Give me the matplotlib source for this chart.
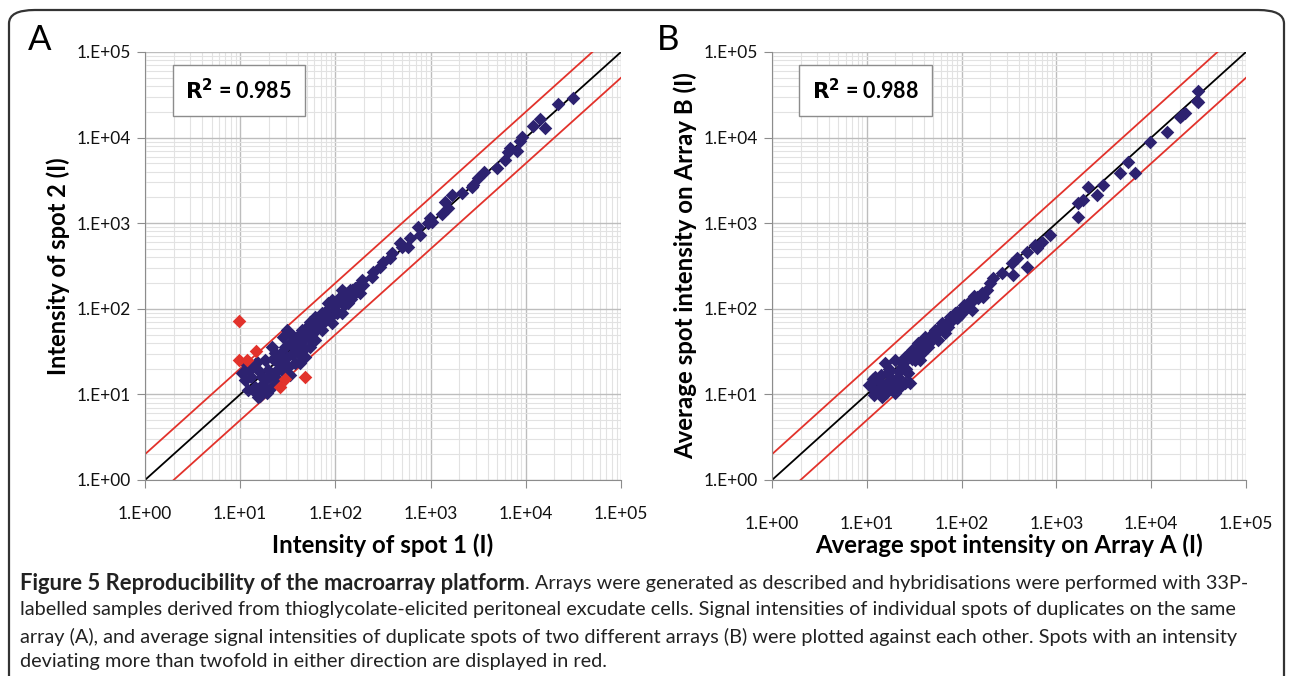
import numpy as np
import matplotlib.pyplot as plt
from matplotlib.patches import FancyBboxPatch
from matplotlib.ticker import LogLocator, FuncFormatter, NullFormatter

plt.rcParams['font.family'] = ['Lato', 'DejaVu Sans']

# panel A: spot 1 vs spot 2 (blue = within twofold)
a_x = [31300, 21800, 14100, 11900, 15900, 9120, 8690, 8090, 6820, 6500, 6050, 4980,
       3640, 3150, 2790, 2720, 2140, 1680, 1420, 1520, 1320, 986, 1035, 940, 738, 774,
       608, 579, 477, 501, 393, 375, 316, 294, 248, 242, 190, 195, 142, 161, 112, 104,
       10.4, 11.2, 12.2, 14.3, 15.5, 16.8, 13.2, 14.9, 18.2, 19.7, 21.4, 23.2, 25.1,
       27.3, 29.6, 32.0, 33.4, 37.6, 40.8, 44.3, 48.0, 52.0, 54.1, 56.4, 61.1, 66.1,
       71.8, 77.8, 84.3, 91.4, 99.0, 107, 116, 126, 137, 148, 167, 181, 28.4, 23.2,
       18.2, 29.6, 25.1, 19.7, 16.1, 30.8, 21.4, 44.3, 61.1, 37.6, 48.0, 71.8, 91.4,
       116, 15.5, 11.2, 27.3, 42.5,
       12, 13, 14, 17, 20, 22, 24, 26, 28, 31, 33, 35, 38, 41, 43, 46, 50, 53, 58, 63,
       68, 75, 80, 88, 95, 103, 112, 122, 133, 145, 160, 19, 16, 36, 54]
a_y = [29000, 24700, 16500, 13700, 12900, 10200, 9120, 6970, 7560, 6790, 5470, 4420,
       3960, 3370, 2790, 2650, 2250, 2130, 1770, 1510, 1280, 1150, 1030, 1005, 903, 728,
       671, 527, 587, 527, 449, 392, 352, 308, 269, 235, 217, 190, 166, 153, 137, 117,
       17.6, 14.7, 11.2, 12.3, 9.4, 16.1, 21.1, 24.1, 14.7, 19.3, 12.3, 16.1, 23.1,
       27.6, 36.1, 21.1, 16.9, 43.2, 30.2, 36.1, 47.2, 56.5, 36.1, 67.7, 43.2, 74.0,
       56.5, 88.6, 116, 67.7, 96.8, 127, 88.6, 152, 116, 166, 181, 152, 47.2, 30.2,
       25.2, 17.6, 14.7, 11.2, 11.2, 56.5, 36.1, 56.5, 80.9, 23.1, 27.6, 88.6, 127,
       166, 19.3, 23.1, 19.3, 23.1,
       20, 16, 11, 13, 16, 26, 19, 30, 22, 27, 40, 30, 34, 50, 40, 33, 62, 45, 52, 60,
       64, 70, 95, 80, 110, 90, 130, 110, 145, 130, 175, 10.5, 9.5, 48, 70]
# panel A: outliers (more than twofold)
a_red_x = [9.7, 14.7, 9.7, 11.8, 29.6, 26.2, 48]
a_red_y = [72, 32, 25, 25, 15.1, 12.2, 16]

# panel B: array A vs array B
b_x = [31400, 30200, 31400, 21000, 22700, 20100, 14600, 9710, 5730, 4690, 6750, 3130,
       2660, 2170, 1920, 1700, 1700, 856, 700, 595, 620, 486, 486, 381, 337, 351, 265,
       216, 199, 184, 163, 144, 123, 118, 96.2, 88.8, 75.5, 66.8,
       11.3, 12.2, 14.4, 13.2, 16.9, 18.3, 15.6, 19.8, 21.5, 23.3, 25.3, 27.4, 29.8,
       32.2, 34.9, 37.9, 41.1, 44.6, 52.4, 56.8, 61.7, 66.8, 78.7, 85.1, 92.3, 109,
       118, 128, 150, 169, 19.8, 21.5, 28.6, 17.6, 12.2, 48.3, 72.4, 100, 36.4, 25.3,
       11.5, 13, 14, 15, 17, 18, 20, 22, 24, 26, 28, 30, 33, 36, 39, 42, 46, 50, 54,
       59, 64, 70, 76, 82, 90, 98, 105, 115, 125, 135, 10.5, 12, 16, 23]
b_y = [35300, 27000, 26300, 18400, 19200, 17300, 11700, 8960, 5230, 3830, 3830, 2790,
       2140, 2670, 1870, 1710, 1190, 728, 608, 556, 509, 465, 310, 389, 340, 248, 260,
       227, 199, 166, 152, 138, 116, 106, 88.6, 77.4, 70.8, 64.7,
       12.3, 10.3, 9.4, 14.7, 17.6, 12.3, 23.1, 25.2, 16.1, 21.1, 27.6, 17.6, 33.0,
       25.2, 39.5, 30.2, 47.2, 36.1, 56.5, 43.2, 67.7, 51.7, 74.0, 88.6, 80.9, 106,
       116, 96.8, 133, 138, 10.3, 12.3, 13.5, 14.7, 16.1, 43.2, 61.8, 96.8, 25.2, 13.5,
       15, 11, 17, 13, 20, 15, 14, 19, 23, 20, 30, 26, 29, 34, 42, 38, 48, 45, 52,
       60, 58, 68, 80, 78, 92, 88, 112, 105, 120, 140, 13, 9.8, 10.5, 12.5]

r2_a = 0.985
r2_b = 0.988

blue = '#2d2270'
red = '#e2322b'
line_x = np.array([1, 1e5])


def setup(ax, xlabel, ylabel, r2, xpad, lsize):
    ax.set_xscale('log')
    ax.set_yscale('log')
    ax.set_xlim(1, 1e5)
    ax.set_ylim(1, 1e5)
    ax.xaxis.set_minor_locator(LogLocator(base=10, subs=np.arange(2, 10)))
    ax.yaxis.set_minor_locator(LogLocator(base=10, subs=np.arange(2, 10)))
    ax.xaxis.set_minor_formatter(NullFormatter())
    ax.yaxis.set_minor_formatter(NullFormatter())
    fmt = FuncFormatter(lambda v, p: '1.E+%02d' % int(round(np.log10(v))))
    ax.xaxis.set_major_formatter(fmt)
    ax.yaxis.set_major_formatter(fmt)
    ax.grid(which='major', color='#bdbdbd', lw=1.0)
    ax.grid(which='minor', color='#e2e2e2', lw=0.8)
    ax.set_axisbelow(True)
    for s in ['top', 'right']:
        ax.spines[s].set_visible(False)
    for s in ['left', 'bottom']:
        ax.spines[s].set_color('#8c8c8c')
    ax.tick_params(which='major', length=6, color='#8c8c8c', labelsize=12.5,
                   labelcolor='#111111')
    ax.tick_params(which='minor', length=0)
    ax.tick_params(axis='x', pad=xpad)
    ax.tick_params(axis='y', pad=4)
    ax.set_xlabel(xlabel, fontsize=17.3, fontweight='bold', labelpad=21 - xpad)
    ax.set_ylabel(ylabel, fontsize=lsize, fontweight='bold', labelpad=5)
    ax.plot(line_x, line_x, color='black', lw=1.3, zorder=2)
    ax.plot(line_x, line_x * 2, color=red, lw=1.3, zorder=2)
    ax.plot(line_x, line_x / 2, color=red, lw=1.3, zorder=2)
    ax.text(0.085, 0.91, '$\\mathbf{R^2}$ = %.3f' % r2, transform=ax.transAxes,
            fontsize=15.5, fontweight='bold', va='center', ha='left',
            bbox=dict(boxstyle='square,pad=0.6', fc='white', ec='#8c8c8c', lw=1))


fig = plt.figure(figsize=(12.9, 6.76), dpi=100)
ax1 = fig.add_axes([145 / 1290, 1 - 480 / 676, 476 / 1290, 428 / 676])
ax2 = fig.add_axes([772 / 1290, 1 - 480 / 676, 474 / 1290, 428 / 676])

setup(ax1, 'Intensity of spot 1 (I)', 'Intensity of spot 2 (I)', r2_a, 13, 17)
setup(ax2, 'Average spot intensity on Array A (I)', 'Average spot intensity on Array B (I)',
      r2_b, 20, 17.3)

ax1.scatter(a_x, a_y, marker='D', s=48, color=blue, lw=0, zorder=3)
ax1.scatter(a_red_x, a_red_y, marker='D', s=48, color=red, lw=0, zorder=3)
ax2.scatter(b_x, b_y, marker='D', s=48, color=blue, lw=0, zorder=3)

fig.text(40 / 1290, 1 - 40 / 676, 'A', fontsize=25, va='center', ha='center')
fig.text(668 / 1290, 1 - 40 / 676, 'B', fontsize=25, va='center', ha='center')

# frame
frame = FancyBboxPatch((9 / 1290, -0.1), 1275 / 1290, 1.1 - 10 / 676,
                       boxstyle='round,pad=0,rounding_size=0.02',
                       transform=fig.transFigure, fc='none', ec='#333333', lw=1.6)
fig.patches.append(frame)

# caption
cap_size = 14.3
cap_x = 20 / 1290
lines_y = [584, 610, 637, 662]
bold = fig.text(cap_x, 1 - lines_y[0] / 676, 'Figure 5 Reproducibility of the macroarray platform',
                fontsize=15.8, fontweight='bold', va='center', ha='left', color='#222222')
fig.canvas.draw()
bb = bold.get_window_extent()
fig.text(bb.x1 / fig.bbox.width, 1 - lines_y[0] / 676,
         '. Arrays were generated as described and hybridisations were performed with 33P-',
         fontsize=cap_size, va='center', ha='left', color='#222222')
rest = ['labelled samples derived from thioglycolate-elicited peritoneal excudate cells. '
        'Signal intensities of individual spots of duplicates on the same',
        'array (A), and average signal intensities of duplicate spots of two different arrays (B) '
        'were plotted against each other. Spots with an intensity',
        'deviating more than twofold in either direction are displayed in red.']
for t, yy in zip(rest, lines_y[1:]):
    fig.text(cap_x, 1 - yy / 676, t, fontsize=cap_size, va='center', ha='left', color='#222222')

fig.savefig('out.png', dpi=100)
